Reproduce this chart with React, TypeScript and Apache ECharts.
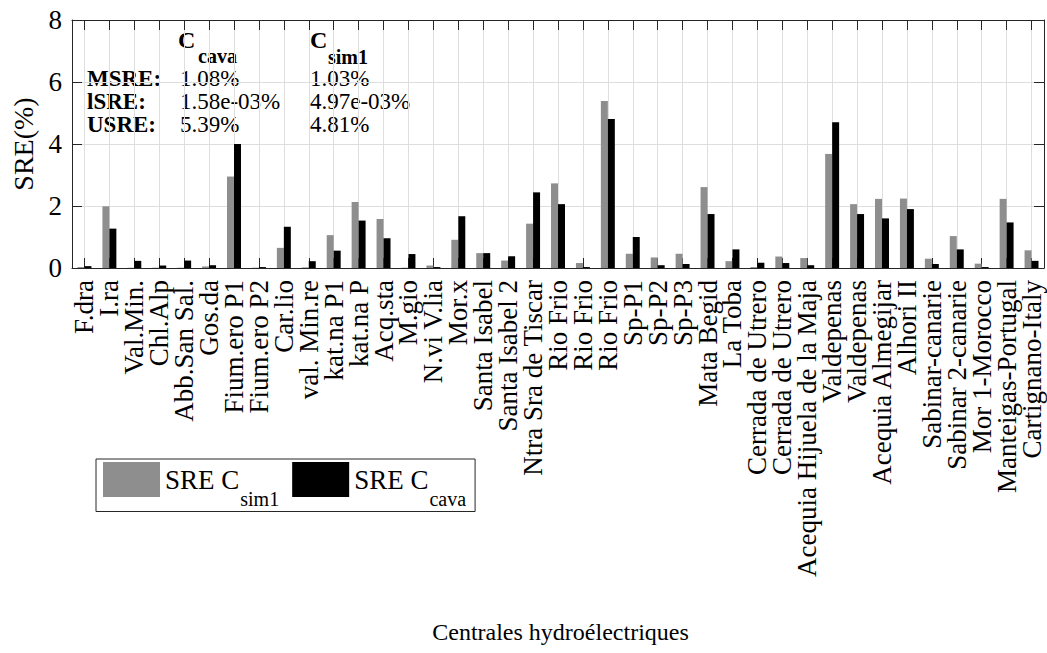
import React, { useEffect, useRef } from "react";
import * as echarts from "echarts";

const categories = [
  "F.dra", "I.ra", "Val.Min.", "Chl.Alp", "Abb.San Sal.", "Gos.da", "Fium.ero P1", "Fium.ero P2",
  "Car.lio", "val. Min.re", "kat.na P1", "kat.na P", "Acq.sta", "M.gio", "N.vi V.lia", "Mor.x",
  "Santa Isabel", "Santa Isabel 2", "Ntra Sra de Tiscar", "Rio Frio", "Rio Frio", "Rio Frio",
  "Sp-P1", "Sp-P2", "Sp-P3", "Mata Begid", "La Toba", "Cerrada de Utrero", "Cerrada de Utrero",
  "Acequia Hijuela de la Maja", "Valdepenas", "Valdepenas", "Acequia Almegijar", "Alhori II",
  "Sabinar-canarie", "Sabinar 2-canarie", "Mor 1-Morocco", "Manteigas-Portugal", "Cartignano-Italy",
];

const simValues = [
  0.03, 1.99, 0.01, 0.01, 0.01, 0.05, 2.95, 0.01, 0.65, 0.02,
  1.06, 2.13, 1.58, 0.01, 0.08, 0.91, 0.48, 0.24, 1.43, 2.73,
  0.16, 5.39, 0.46, 0.34, 0.46, 2.61, 0.22, 0.03, 0.37, 0.32,
  3.68, 2.06, 2.23, 2.24, 0.3, 1.03, 0.14, 2.23, 0.57,
];

const cavaValues = [
  0.06, 1.27, 0.23, 0.08, 0.24, 0.09, 4.0, 0.03, 1.33, 0.22,
  0.56, 1.53, 0.96, 0.45, 0.03, 1.67, 0.48, 0.38, 2.44, 2.06,
  0.03, 4.81, 1.0, 0.09, 0.13, 1.74, 0.6, 0.17, 0.16, 0.09,
  4.7, 1.74, 1.6, 1.9, 0.13, 0.6, 0.03, 1.47, 0.23,
];

const seriesNames = ["SRE C_sim1", "SRE C_cava"];
const statLabels = ["MSRE:", "lSRE:", "USRE:"];
const cavaStats = ["1.08%", "1.58e-03%", "5.39%"];
const simStats = ["1.03%", "4.97e-03%", "4.81%"];
const yTicks = { min: 0, max: 8, interval: 2 };

const FONT = "Liberation Serif";
const FRAME = "#262626";
const GRID = "#dedede";

function txt(x: number, y: number, text: string, size: number, bold: boolean, lineHeight?: number) {
  return {
    type: "text",
    x,
    y,
    style: {
      text,
      fontFamily: FONT,
      fontSize: size,
      fontWeight: bold ? "bold" : "normal",
      lineHeight: lineHeight ?? size,
      fill: "#000",
      verticalAlign: "middle",
    },
  };
}

export default function App() {
  const ref = useRef<HTMLDivElement>(null);

  useEffect(() => {
    if (!ref.current) return;
    const chart = echarts.init(ref.current, undefined, { renderer: "svg" });

    const blockY = 101.5;
    const rowGap = 23.3;
    const graphics: any[] = [
      txt(178, 40, "C", 24, true),
      txt(198, 55.5, "cava", 20, true),
      txt(310, 40, "C", 24, true),
      txt(328, 56.5, "sim1", 20, true),
      txt(87, blockY, statLabels.join("\n"), 23, true, rowGap),
      txt(180, blockY, cavaStats.join("\n"), 23, false, rowGap),
      txt(310, blockY, simStats.join("\n"), 23, false, rowGap),
    ];

    const option: any = {
      animation: false,
      backgroundColor: "#fff",
      textStyle: { fontFamily: FONT },
      grid: { left: 72, top: 20, right: 3, bottom: 385, containLabel: false },
      legend: {
        left: 96,
        top: 459,
        orient: "horizontal",
        icon: "rect",
        itemWidth: 57,
        itemHeight: 35,
        itemGap: 13,
        padding: [3, 9, 3, 7],
        borderColor: FRAME,
        borderWidth: 1,
        data: seriesNames,
        formatter: (name: string) => {
          const [a, b] = name.split("_");
          return `{m|${a}}{s|${b}}`;
        },
        textStyle: {
          fontFamily: FONT,
          color: "#000",
          rich: {
            m: { fontFamily: FONT, fontSize: 27, lineHeight: 30, padding: [2, 0, 0, 0], verticalAlign: "top", color: "#000" },
            s: { fontFamily: FONT, fontSize: 20, lineHeight: 20, padding: [24, 0, 0, 1], verticalAlign: "top", color: "#000" },
          },
        },
      },
      xAxis: [
        {
          type: "category",
          data: categories,
          position: "bottom",
          axisLine: { show: false },
          axisLabel: { show: false },
          axisTick: { show: true, alignWithLabel: true, inside: true, length: 248, interval: 0, lineStyle: { color: GRID, width: 1 } },
          splitLine: { show: false },
        },
        {
          type: "category",
          data: categories,
          position: "bottom",
          axisLine: { show: true, lineStyle: { color: FRAME, width: 1 } },
          axisTick: { show: true, alignWithLabel: true, inside: true, length: 10, interval: 0, lineStyle: { color: FRAME } },
          axisLabel: { interval: 0, rotate: 90, fontSize: 27, fontFamily: FONT, color: "#000", margin: 12 },
          splitLine: { show: false },
          name: "Centrales hydroélectriques",
          nameLocation: "middle",
          nameGap: 352,
          nameTextStyle: { fontSize: 24, fontFamily: FONT, color: "#000", padding: [0, 0, 0, 5] },
        },
        {
          type: "category",
          data: categories,
          position: "top",
          axisLine: { show: true, lineStyle: { color: FRAME, width: 1 } },
          axisTick: { show: true, alignWithLabel: true, inside: true, length: 10, interval: 0, lineStyle: { color: FRAME } },
          axisLabel: { show: false },
          splitLine: { show: false },
        },
      ],
      yAxis: [
        {
          type: "value",
          position: "left",
          min: yTicks.min,
          max: yTicks.max,
          interval: yTicks.interval,
          axisLine: { show: true, lineStyle: { color: FRAME, width: 1 } },
          axisTick: { show: true, inside: true, length: 10, lineStyle: { color: FRAME } },
          axisLabel: { fontSize: 27, fontFamily: FONT, color: "#000", margin: 10 },
          splitLine: { show: true, showMinLine: false, showMaxLine: false, lineStyle: { color: GRID, width: 1 } },
          name: "SRE(%)",
          nameLocation: "middle",
          nameGap: 34,
          nameTextStyle: { fontSize: 28, fontFamily: FONT, color: "#000" },
        },
        {
          type: "value",
          position: "right",
          min: yTicks.min,
          max: yTicks.max,
          interval: yTicks.interval,
          axisLine: { show: true, lineStyle: { color: FRAME, width: 1 } },
          axisTick: { show: true, inside: true, length: 10, lineStyle: { color: FRAME } },
          axisLabel: { show: false },
          splitLine: { show: false },
        },
      ],
      series: [
        {
          name: seriesNames[0],
          type: "bar",
          xAxisIndex: 1,
          yAxisIndex: 0,
          data: simValues,
          barWidth: "28%",
          barGap: "0%",
          itemStyle: { color: "#8e8e8e" },
        },
        {
          name: seriesNames[1],
          type: "bar",
          xAxisIndex: 1,
          yAxisIndex: 0,
          data: cavaValues,
          barWidth: "28%",
          barGap: "0%",
          itemStyle: { color: "#000000" },
        },
      ],
      graphic: graphics,
    };

    chart.setOption(option);
    return () => chart.dispose();
  }, []);

  return (
    <div
      ref={ref}
      style={{ position: "fixed", left: 0, top: 0, width: 1047, height: 653, background: "#fff" }}
    />
  );
}
